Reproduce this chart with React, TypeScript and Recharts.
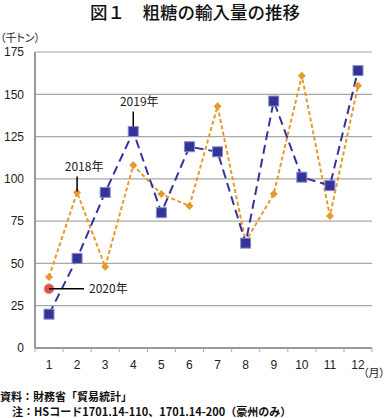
import React from 'react';
import { LineChart, Line, XAxis, YAxis, CartesianGrid } from 'recharts';

const months = ['1', '2', '3', '4', '5', '6', '7', '8', '9', '10', '11', '12'];
const imports2018 = [42, 92, 48, 108, 91, 84, 143, 63, 91, 161, 78, 155];
const imports2019 = [20, 53, 92, 128, 80, 119, 116, 62, 146, 101, 96, 164];
const imports2020 = [35];
const yTicks = [0, 25, 50, 75, 100, 125, 150, 175];

const data = months.map((m, i) => ({
  month: m,
  y2018: imports2018[i],
  y2019: imports2019[i],
  y2020: i < imports2020.length ? imports2020[i] : null,
}));

const FONT = '"Liberation Sans", "Noto Sans CJK JP", sans-serif';
const JP = '"Noto Sans CJK JP", sans-serif';
const BLUE = '#333399';
const ORANGE = '#E49A2C';
const RED = '#D9534F';

const SquareDot = (props: any) => {
  const { cx, cy } = props;
  if (cx == null || cy == null) return null;
  return <rect x={cx - 5} y={cy - 5} width={10} height={10} fill={BLUE} stroke="#8c8cc8" strokeWidth={1} />;
};

const DiamondDot = (props: any) => {
  const { cx, cy } = props;
  if (cx == null || cy == null) return null;
  const r = 4;
  return <path d={`M${cx},${cy - r} L${cx + r},${cy} L${cx},${cy + r} L${cx - r},${cy} Z`} fill={ORANGE} />;
};

const CircleDot = (props: any) => {
  const { cx, cy } = props;
  if (cx == null || cy == null) return null;
  return <circle cx={cx} cy={cy} r={5} fill={RED} stroke="#f0a0a0" strokeWidth={1} />;
};

const makeUpLabel = (idx: number, text: string, gapTop: number, gapBottom: number, textDx: number) => (props: any) => {
  const { x, y, index } = props;
  if (index !== idx || x == null || y == null) return null;
  return (
    <g>
      <line x1={x} x2={x} y1={y - gapBottom} y2={y - gapBottom - gapTop} stroke="#000" strokeWidth={1.5} />
      <text x={x + textDx} y={y - gapBottom - gapTop - 5} textAnchor="middle" fontSize={12} fontFamily={JP} fill="#222">
        {text}
      </text>
    </g>
  );
};

const Label2018 = makeUpLabel(1, '2018年', 15, 1, 7);
const Label2019 = makeUpLabel(3, '2019年', 15, 5, 6);

const Label2020 = (props: any) => {
  const { x, y, index } = props;
  if (index !== 0 || x == null || y == null) return null;
  return (
    <g>
      <line x1={x} x2={x + 35} y1={y} y2={y} stroke="#000" strokeWidth={1.5} />
      <text x={x + 40} y={y + 4.5} textAnchor="start" fontSize={12} fontFamily={JP} fill="#222">
        2020年
      </text>
    </g>
  );
};

const XTick = (props: any) => {
  const { x, y, payload, index } = props;
  const half = 14;
  return (
    <g>
      <line x1={x - half} x2={x - half} y1={y - 8} y2={y - 4} stroke="#aaa" strokeWidth={1} />
      {index === months.length - 1 && (
        <line x1={x + half} x2={x + half} y1={y - 8} y2={y - 4} stroke="#aaa" strokeWidth={1} />
      )}
      <text x={x} y={y + 13} textAnchor="middle" fontSize={12} fontFamily={FONT} fill="#222">
        {payload.value}
      </text>
    </g>
  );
};

const palt: React.CSSProperties = { fontFeatureSettings: '"palt"' };

export default function App() {
  return (
    <div style={{ position: 'absolute', left: 0, top: 0, width: 388, height: 418, background: '#fff', fontFamily: JP, overflow: 'hidden' }}>
      <div style={{ position: 'absolute', left: 90, top: 0, fontSize: 17.5, color: '#111', whiteSpace: 'nowrap', lineHeight: '24px', fontWeight: 500 }}>
        図１　粗糖の輸入量の推移
      </div>
      <div style={{ position: 'absolute', left: 0, top: 29, fontSize: 11, color: '#222', whiteSpace: 'nowrap', lineHeight: '16px', ...palt }}>
        （千トン）
      </div>
      <LineChart
        width={388}
        height={418}
        data={data}
        margin={{ top: 52, right: 16, bottom: 50, left: 0 }}
      >
        <CartesianGrid vertical={false} stroke="#a8a8a8" strokeWidth={1.2} />
        <XAxis
          dataKey="month"
          axisLine={{ stroke: '#999', strokeWidth: 2 }}
          tickLine={false}
          tick={<XTick />}
          height={20}
          interval={0}
          padding={{ left: 14, right: 14 }}
        />
        <YAxis
          domain={[0, 175]}
          ticks={yTicks}
          width={35}
          axisLine={{ stroke: '#999', strokeWidth: 2 }}
          tickLine={false}
          tickMargin={5}
          tick={{ fontSize: 12, fontFamily: FONT, fill: '#222' }}
          interval={0}
        />
        <Line
          dataKey="y2018"
          stroke={ORANGE}
          strokeWidth={2}
          strokeDasharray="4 2.5"
          dot={<DiamondDot />}
          activeDot={false}
          label={<Label2018 />}
          isAnimationActive={false}
        />
        <Line
          dataKey="y2019"
          stroke={BLUE}
          strokeWidth={2}
          strokeDasharray="9 5"
          dot={<SquareDot />}
          activeDot={false}
          label={<Label2019 />}
          isAnimationActive={false}
        />
        <Line
          dataKey="y2020"
          stroke="none"
          dot={<CircleDot />}
          activeDot={false}
          label={<Label2020 />}
          isAnimationActive={false}
        />
      </LineChart>
      <div style={{ position: 'absolute', left: 363, top: 364, fontSize: 11, color: '#222', whiteSpace: 'nowrap', lineHeight: '16px', ...palt }}>
        （月）
      </div>
      <div style={{ position: 'absolute', left: 0, top: 389, fontSize: 11, color: '#111', whiteSpace: 'nowrap', lineHeight: '15px', fontWeight: 'bold' }}>
        資料：財務省「貿易統計」
      </div>
      <div style={{ position: 'absolute', left: 12, top: 404, fontSize: 11, color: '#111', whiteSpace: 'nowrap', lineHeight: '15px', fontWeight: 'bold' }}>
        注：HSコード1701.14-110、1701.14-200（豪州のみ）
      </div>
    </div>
  );
}
